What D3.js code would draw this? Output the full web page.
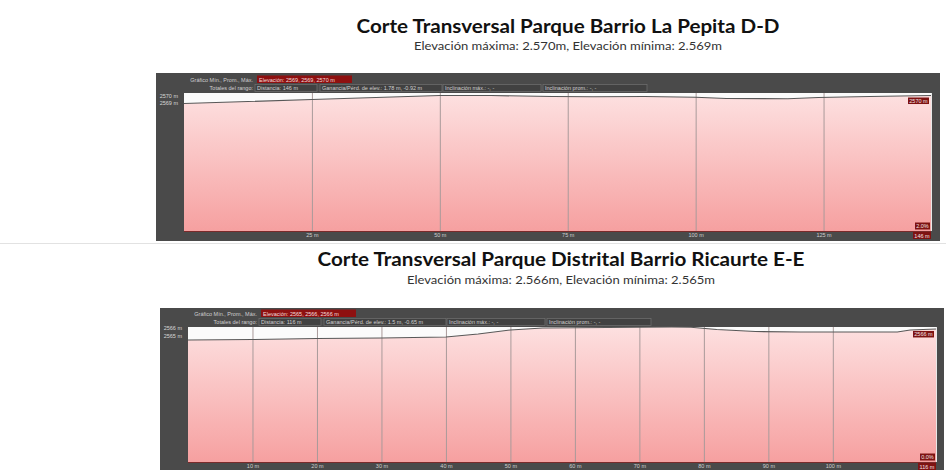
<!DOCTYPE html>
<html><head><meta charset="utf-8">
<script src="https://cdn.jsdelivr.net/npm/d3@7"></script>
<style>body{margin:0;background:#fff;} svg{display:block}</style>
</head><body><svg id="c" width="946" height="470"></svg>
<script>
// ---------- DATA: panel D-D ----------
const titleD = "Corte Transversal Parque Barrio La Pepita D-D";
const subtitleD = "Elevación máxima: 2.570m, Elevación mínima: 2.569m";
const distD = [0, 25, 50, 60, 72, 80, 90, 100, 106, 118, 124, 134, 146];
const elevD = [2568.82, 2569.41, 2570.0, 2570.0, 2569.85, 2569.82, 2569.85, 2569.74, 2569.56, 2569.53, 2569.71, 2569.85, 2570.0];
const xTicksD = [25, 50, 75, 100, 125];
const yTicksD = [2569, 2570];
const totalD = 146;
const headerD = ["Elevación: 2569, 2569, 2570 m", "Distancia: 146 m", "Ganancia/Pérd. de elev.: 1.78 m, -0.92 m", "Inclinación máx.: -, -", "Inclinación prom.: -, -"];
const endLabelD = "2570 m";
const slopeD = "2.0%";

// ---------- DATA: panel E-E ----------
const titleE = "Corte Transversal Parque Distrital Barrio Ricaurte E-E";
const subtitleE = "Elevación máxima: 2.566m, Elevación mínima: 2.565m";
const distE = [0, 10, 20, 30, 40, 45, 50, 55, 65, 75, 78, 82, 88, 95, 104, 110, 112, 116];
const elevE = [2564.5, 2564.56, 2564.69, 2564.75, 2564.88, 2565.25, 2565.75, 2566.0, 2566.06, 2566.12, 2566.1, 2565.81, 2565.56, 2565.5, 2565.5, 2565.5, 2565.75, 2565.88];
const xTicksE = [10, 20, 30, 40, 50, 60, 70, 80, 90, 100];
const yTicksE = [2565, 2566];
const totalE = 116;
const headerE = ["Elevación: 2565, 2566, 2566 m", "Distancia: 116 m", "Ganancia/Pérd. de elev.: 1.5 m, -0.65 m", "Inclinación máx.: -, -", "Inclinación prom.: -, -"];
const endLabelE = "2566 m";
const slopeE = "0.0%";

const svg = d3.select("#c");
const smallFont = "Liberation Sans, Arial, sans-serif";

// faint screenshot separator
svg.append("line").attr("x1", 0).attr("x2", 946).attr("y1", 243.5).attr("y2", 243.5)
  .attr("stroke", "#e2e2e2").attr("stroke-width", 1);

function titles(t, s, cx, ty, tl, sy, sl) {
  svg.append("text").attr("x", cx).attr("y", ty).attr("text-anchor", "middle")
    .attr("font-family", "Lato, 'Open Sans', sans-serif").attr("font-weight", "bold")
    .attr("font-size", 18.5).attr("fill", "#111")
    .attr("textLength", tl).attr("lengthAdjust", "spacingAndGlyphs").text(t);
  svg.append("text").attr("x", cx).attr("y", sy).attr("text-anchor", "middle")
    .attr("font-family", "Lato, 'Open Sans', sans-serif")
    .attr("font-size", 11.5).attr("fill", "#333")
    .attr("textLength", sl).attr("lengthAdjust", "spacingAndGlyphs").text(s);
}

function drawPanel(o) {
  const g = svg.append("g");
  const [px, py, pw, ph] = o.plot;
  // dark panel
  g.append("rect").attr("x", o.panel[0]).attr("y", o.panel[1])
    .attr("width", o.panel[2]).attr("height", o.panel[3]).attr("fill", "#4a4a4a");

  const x = d3.scaleLinear().domain([0, o.total]).range([px, px + pw]);
  const y = d3.scaleLinear().domain(o.yDomain).range([py + ph, py]);

  // gradient
  const gid = "grad" + o.id;
  const grad = svg.append("defs").append("linearGradient").attr("id", gid)
    .attr("x1", 0).attr("x2", 0).attr("y1", 0).attr("y2", 1);
  grad.append("stop").attr("offset", "0%").attr("stop-color", "#fde0e0");
  grad.append("stop").attr("offset", "100%").attr("stop-color", "#f6a0a0");

  // plot background (above the line)
  g.append("rect").attr("x", px).attr("y", py).attr("width", pw).attr("height", ph).attr("fill", "#fbfbfb");

  const pts = o.dist.map((d, i) => [d, o.elev[i]]);
  g.append("path").datum(pts)
    .attr("d", d3.area().x(d => x(d[0])).y0(py + ph).y1(d => y(d[1])))
    .attr("fill", `url(#${gid})`);

  // vertical gridlines
  g.append("g").attr("transform", `translate(0,${py + ph})`)
    .call(d3.axisBottom(x).tickValues(o.xTicks).tickSize(-ph).tickFormat(""))
    .call(a => a.select(".domain").remove())
    .call(a => a.selectAll("line").attr("stroke", "#a99a9a").attr("stroke-width", 1));

  // profile line
  g.append("path").datum(pts)
    .attr("d", d3.line().x(d => x(d[0])).y(d => y(d[1])))
    .attr("fill", "none").attr("stroke", "#585858").attr("stroke-width", 1.1);

  // plot borders
  g.append("line").attr("x1", px).attr("x2", px + pw).attr("y1", py + ph + 0.5).attr("y2", py + ph + 0.5)
    .attr("stroke", "#7a2a2a").attr("stroke-width", 1);
  g.append("line").attr("x1", px + pw + 0.5).attr("x2", px + pw + 0.5).attr("y1", py).attr("y2", py + ph)
    .attr("stroke", "#e8e8e8").attr("stroke-width", 1);

  // bottom tick labels
  g.append("g").attr("transform", `translate(0,${py + ph})`)
    .call(d3.axisBottom(x).tickValues(o.xTicks).tickSize(0).tickPadding(2).tickFormat(d => d + " m"))
    .call(a => a.select(".domain").remove())
    .call(a => a.selectAll("text").attr("fill", "#cfcfcf").attr("font-size", 5.5).attr("font-family", smallFont));

  // y tick labels
  g.append("g").attr("transform", `translate(${px - 6},0)`)
    .call(d3.axisLeft(y).tickValues(o.yTicks).tickSize(0).tickPadding(0).tickFormat(d => d + " m"))
    .call(a => a.select(".domain").remove())
    .call(a => a.selectAll("text").attr("fill", "#d8d8d8").attr("font-size", 5.5).attr("font-family", smallFont));

  // header
  const hdr = g.append("g").attr("font-family", smallFont).attr("font-size", 5.5);
  hdr.append("text").attr("x", px + 69).attr("y", py - 11.5).attr("text-anchor", "end")
    .attr("fill", "#cfcfcf").text("Gráfico  Mín., Prom., Máx.");
  hdr.append("rect").attr("x", px + 73).attr("y", py - 17.5).attr("width", 95).attr("height", 7.5).attr("fill", "#8e1010");
  hdr.append("text").attr("x", px + 75).attr("y", py - 11.5).attr("fill", "#f4dede").text(o.header[0]);
  hdr.append("text").attr("x", px + 69).attr("y", py - 3).attr("text-anchor", "end")
    .attr("fill", "#cfcfcf").text("Totales del rango:");
  const bx = [71, 136, 259, 359], bw = [62, 122, 98, 104];
  bx.forEach((b, i) => {
    hdr.append("rect").attr("x", px + b).attr("y", py - 8.5).attr("width", bw[i]).attr("height", 7)
      .attr("fill", "#414141").attr("stroke", "#6c6c6c").attr("stroke-width", 0.8);
    hdr.append("text").attr("x", px + b + 2).attr("y", py - 3).attr("fill", "#cfcfcf").text(o.header[i + 1]);
  });

  // end-value marker
  const ly = y(o.elev[o.elev.length - 1]) + 2;
  hdr.append("rect").attr("x", px + pw - 23).attr("y", ly).attr("width", 21).attr("height", 6.5).attr("fill", "#7e1212");
  hdr.append("text").attr("x", px + pw - 12.5).attr("y", ly + 5).attr("text-anchor", "middle").attr("fill", "#f2e2e2").text(o.endLabel);
  // slope and total distance boxes
  hdr.append("rect").attr("x", px + pw - 16).attr("y", py + ph - 8.5).attr("width", 15).attr("height", 7).attr("fill", "#7e1212");
  hdr.append("text").attr("x", px + pw - 8.5).attr("y", py + ph - 3).attr("text-anchor", "middle").attr("fill", "#f2e2e2").text(o.slope);
  hdr.append("rect").attr("x", px + pw - 18).attr("y", py + ph + 1).attr("width", 18).attr("height", 7).attr("fill", "#7e1212");
  hdr.append("text").attr("x", px + pw - 9).attr("y", py + ph + 6.5).attr("text-anchor", "middle").attr("fill", "#f2e2e2").text(o.total + " m");
}

titles(titleD, subtitleD, 568, 33, 423, 50, 308);
drawPanel({id: "D", panel: [156, 73, 784, 168], plot: [184, 93, 747, 138], total: totalD,
  yDomain: [2550.07, 2570.37], dist: distD, elev: elevD, xTicks: xTicksD, yTicks: yTicksD,
  header: headerD, endLabel: endLabelD, slope: slopeD});

titles(titleE, subtitleE, 561, 266, 487, 284, 308);
drawPanel({id: "E", panel: [160, 308, 784, 162], plot: [188, 327, 748, 135], total: totalE,
  yDomain: [2549.25, 2566.125], dist: distE, elev: elevE, xTicks: xTicksE, yTicks: yTicksE,
  header: headerE, endLabel: endLabelE, slope: slopeE});
</script>
</body></html>
